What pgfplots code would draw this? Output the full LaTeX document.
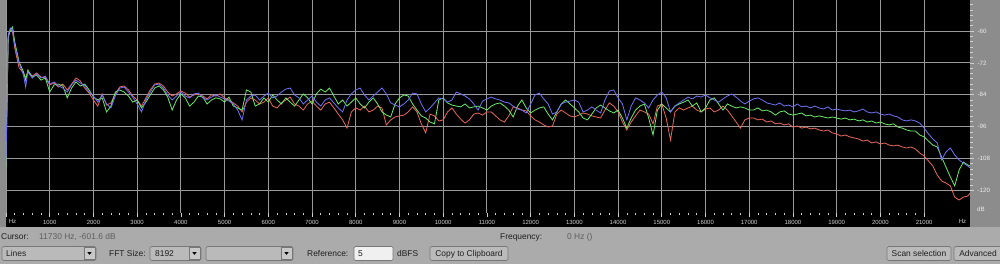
\documentclass[border=0pt]{standalone}
\usepackage{fontspec}
\setmainfont{Liberation Sans}
\usepackage{pgfplots}
\pgfplotsset{compat=1.18}
\usepackage{pgfplotstable}
\definecolor{panel}{HTML}{ABABAB}
\definecolor{side}{HTML}{8C8C8C}
\definecolor{gridc}{HTML}{999999}
\definecolor{tickc}{HTML}{D0D0D0}
\definecolor{cred}{HTML}{E8685C}
\definecolor{cgreen}{HTML}{6BEA6B}
\definecolor{cblue}{HTML}{7272F8}
\definecolor{combo}{HTML}{BABABA}
\definecolor{bord}{HTML}{777777}
\definecolor{txt}{HTML}{1E1E1E}
\definecolor{txtl}{HTML}{5E5E5E}

\pgfplotstableread{
f R G B
0 -107.9 -111.3 -109.4
50 -61.9 -62.6 -61.5
100 -59.2 -59.6 -58.9
150 -60.4 -58.5 -59.6
200 -66.4 -64.1 -65.3
250 -70.2 -67.9 -69.0
300 -73.9 -71.7 -72.1
400 -75.8 -75.4 -76.6
450 -77.7 -78.5 -81.1
500 -75.4 -74.7 -75.4
600 -77.0 -77.3 -77.7
700 -75.8 -76.6 -76.2
800 -77.3 -78.5 -77.7
900 -77.7 -77.7 -77.0
1000 -80.3 -83.0 -80.0
1100 -79.6 -80.3 -79.2
1200 -81.1 -80.0 -80.7
1300 -80.0 -80.7 -81.5
1400 -82.2 -85.2 -83.0
1500 -80.0 -81.5 -80.3
1600 -77.7 -79.2 -78.5
1700 -78.8 -80.7 -79.6
1800 -81.5 -80.0 -80.7
1900 -83.4 -82.2 -83.0
2000 -86.0 -84.9 -84.5
2100 -88.3 -86.0 -86.8
2200 -83.7 -85.2 -84.1
2300 -87.9 -90.5 -87.5
2400 -87.1 -88.3 -89.0
2500 -83.7 -83.0 -84.5
2600 -81.1 -82.2 -81.5
2700 -80.7 -83.0 -81.1
2800 -82.2 -84.5 -83.0
2900 -84.5 -86.8 -84.9
3000 -86.0 -86.0 -87.5
3100 -88.3 -89.0 -90.5
3200 -85.2 -86.8 -86.0
3300 -82.2 -84.1 -83.0
3400 -80.0 -81.5 -80.3
3500 -79.6 -80.7 -80.0
3600 -80.7 -82.2 -81.5
3700 -83.0 -84.9 -84.1
3800 -84.5 -89.8 -86.0
3900 -83.7 -86.0 -84.5
4000 -82.6 -83.7 -83.0
4100 -83.4 -85.2 -84.5
4200 -84.9 -88.3 -85.2
4300 -84.1 -86.8 -83.7
4400 -83.7 -84.5 -83.4
4500 -84.5 -84.9 -85.2
4600 -85.6 -87.5 -86.0
4700 -84.1 -86.0 -84.9
4800 -84.5 -85.2 -84.1
4900 -83.7 -85.6 -84.9
5000 -85.2 -86.8 -85.6
5100 -86.0 -84.9 -86.4
5200 -87.1 -88.3 -87.5
5300 -88.3 -89.0 -89.8
5400 -90.5 -89.8 -93.5
5500 -86.8 -82.2 -86.0
5600 -85.2 -83.0 -84.5
5700 -86.0 -88.3 -84.1
5800 -87.5 -87.5 -86.0
5900 -86.8 -85.2 -84.5
6000 -85.2 -86.8 -83.4
6100 -88.3 -84.1 -85.2
6200 -89.0 -86.0 -84.5
6300 -87.1 -87.5 -83.0
6400 -86.0 -85.2 -81.9
6500 -84.9 -86.8 -81.5
6600 -87.5 -88.3 -84.1
6700 -88.3 -86.0 -85.2
6800 -89.8 -83.7 -87.5
6900 -87.5 -85.2 -86.0
7000 -86.4 -87.5 -84.5
7100 -88.3 -83.7 -86.8
7200 -89.8 -81.9 -88.3
7300 -87.5 -83.0 -86.0
7400 -86.8 -81.5 -85.2
7500 -89.0 -84.5 -87.1
7600 -91.3 -87.5 -89.0
7700 -93.5 -86.0 -90.5
7800 -96.6 -88.3 -86.0
7900 -90.5 -86.8 -83.7
8000 -89.0 -85.2 -82.2
8100 -89.8 -87.5 -81.5
8200 -88.3 -89.0 -84.1
8300 -90.5 -86.8 -86.0
8400 -89.8 -85.2 -84.5
8500 -88.3 -87.5 -83.0
8600 -89.0 -90.5 -81.5
8700 -95.4 -91.7 -83.7
8800 -93.5 -92.4 -87.1
8900 -92.4 -87.5 -87.9
9000 -92.0 -85.2 -88.6
9100 -91.7 -84.1 -87.5
9200 -90.5 -84.5 -86.0
9300 -88.6 -87.5 -83.4
9400 -90.5 -89.8 -83.7
9500 -95.0 -92.0 -87.5
9600 -98.4 -92.8 -90.5
9700 -91.3 -94.3 -89.0
9800 -92.0 -95.0 -87.1
9900 -93.9 -86.0 -85.2
10000 -93.5 -85.2 -85.6
10100 -90.5 -87.1 -86.8
10200 -89.0 -87.9 -86.0
10300 -91.3 -88.3 -83.0
10400 -93.2 -88.6 -83.7
10500 -94.7 -87.5 -84.5
10600 -93.5 -89.0 -85.6
10700 -91.3 -88.6 -87.5
10800 -90.9 -88.3 -89.8
10900 -91.7 -89.0 -86.4
11000 -90.5 -89.8 -85.6
11100 -90.5 -88.3 -84.9
11200 -92.0 -87.5 -85.6
11300 -93.5 -87.1 -86.0
11400 -94.3 -88.3 -86.8
11500 -92.0 -89.8 -87.1
11600 -88.6 -92.4 -88.3
11700 -89.0 -88.3 -89.4
11800 -89.8 -86.0 -89.8
11900 -90.1 -89.0 -90.9
12000 -92.0 -90.9 -87.5
12100 -93.5 -89.8 -84.1
12200 -94.3 -89.0 -83.4
12300 -95.4 -88.6 -85.6
12400 -96.2 -91.3 -87.5
12500 -95.8 -93.5 -91.3
12600 -91.3 -90.5 -90.5
12700 -89.8 -87.5 -87.5
12800 -90.9 -86.0 -86.8
12900 -92.0 -87.5 -86.4
13000 -92.4 -89.0 -86.0
13100 -91.7 -90.5 -86.8
13200 -90.9 -92.8 -90.5
13300 -91.3 -93.5 -89.8
13400 -92.0 -91.3 -88.6
13500 -92.4 -89.0 -89.8
13600 -92.8 -87.9 -90.9
13700 -89.8 -89.0 -86.0
13800 -87.1 -90.1 -82.6
13900 -88.3 -90.9 -82.2
14000 -90.5 -89.8 -85.2
14100 -94.3 -92.8 -87.5
14200 -97.3 -96.6 -93.5
14300 -94.3 -92.8 -88.3
14400 -92.0 -89.8 -85.2
14500 -89.8 -88.3 -86.0
14600 -90.5 -87.5 -87.1
14700 -91.3 -92.8 -89.0
14800 -95.0 -99.2 -86.0
14900 -88.3 -89.8 -84.1
15000 -87.5 -87.5 -83.0
15100 -92.8 -89.0 -85.2
15200 -101.1 -90.5 -90.5
15300 -90.5 -88.3 -88.3
15400 -89.0 -87.5 -87.1
15500 -89.8 -86.8 -86.0
15600 -89.0 -86.0 -84.9
15700 -88.3 -88.3 -85.6
15800 -89.8 -87.1 -84.5
15900 -90.5 -90.5 -84.9
16000 -89.4 -89.0 -84.1
16100 -89.0 -86.0 -85.2
16200 -90.5 -85.2 -86.0
16300 -89.8 -87.5 -86.8
16400 -88.3 -89.8 -85.6
16500 -89.8 -87.5 -84.5
16600 -92.0 -88.3 -83.7
16700 -94.3 -89.0 -84.9
16800 -96.6 -88.6 -86.4
16900 -93.5 -89.0 -87.5
17000 -92.8 -89.8 -86.4
17100 -92.8 -89.8 -85.6
17200 -93.5 -89.0 -85.2
17300 -93.2 -90.1 -86.0
17400 -94.3 -89.8 -87.1
17500 -93.9 -90.5 -87.5
17600 -95.0 -91.7 -87.9
17700 -94.7 -90.5 -87.1
17800 -95.4 -90.1 -88.3
17900 -95.0 -91.3 -87.9
18000 -96.2 -91.7 -88.6
18100 -95.8 -91.3 -87.5
18200 -96.6 -90.9 -88.6
18300 -96.2 -92.0 -88.3
18400 -96.9 -91.7 -89.0
18500 -96.6 -92.4 -88.3
18600 -97.3 -92.0 -89.0
18700 -97.7 -92.4 -89.4
18800 -97.3 -92.8 -88.6
18900 -98.4 -92.4 -89.8
19000 -98.8 -92.8 -89.4
19100 -99.6 -93.2 -89.8
19200 -99.2 -92.8 -90.1
19300 -99.9 -93.5 -89.8
19400 -100.3 -93.2 -90.5
19500 -100.7 -93.9 -90.1
19600 -101.5 -93.5 -89.4
19700 -101.1 -94.3 -90.5
19800 -102.2 -93.9 -90.9
19900 -101.8 -94.7 -90.5
20000 -102.6 -94.3 -91.3
20100 -102.2 -95.0 -91.7
20200 -103.0 -95.4 -91.3
20300 -103.3 -95.0 -92.0
20400 -103.0 -96.2 -92.4
20500 -103.7 -96.6 -93.5
20600 -104.1 -97.3 -93.9
20700 -103.7 -97.7 -93.5
20800 -104.5 -97.7 -93.9
20900 -106.0 -99.2 -94.7
21000 -107.1 -99.9 -96.6
21100 -109.0 -101.5 -98.8
21200 -110.9 -103.0 -100.7
21300 -114.3 -103.7 -102.2
21400 -116.5 -107.5 -108.6
21500 -117.3 -111.3 -105.6
21600 -118.4 -115.0 -104.1
21700 -122.6 -118.4 -106.7
21800 -123.7 -112.4 -108.6
21900 -122.6 -109.4 -109.8
22000 -122.2 -110.5 -110.9
22050 -121.1 -110.9 -111.6
}\spectrum

\begin{document}
\begin{tikzpicture}[x=1pt,y=1pt]
\path[use as bounding box, clip] (0,0) rectangle (1000,264);
\fill[panel] (0,0) rectangle (1000,264);
\fill[side] (0,37) rectangle (1000,264);
\fill[black] (6,37) rectangle (970,264);
\begin{axis}[
  at={(6pt,51pt)}, anchor=south west,
  scale only axis, width=964pt, height=213pt,
  xmin=0, xmax=22050, ymin=-128.6, ymax=-48.3,
  axis background/.style={fill=black},
  axis line style={draw=none},
  scaled x ticks=false, scaled y ticks=false,
  xtick={0,1000,...,21000},
  xticklabels={,1000,2000,3000,4000,5000,6000,7000,8000,9000,10000,11000,12000,13000,14000,15000,16000,17000,18000,19000,20000,21000},
  minor x tick num=4,
  ytick={-48,-60,-72,-84,-96,-108,-120},
  yticklabels={-48,-60,-72,-84,-96,-108,-120},
  minor y tick num=5,
  tick align=outside,
  xtick pos=bottom, ytick pos=right,
  xticklabel pos=lower, yticklabel pos=right,
  grid=major,
  major grid style={draw=gridc, line width=0.9pt},
  tick style={draw=tickc, line width=0.6pt},
  major tick length=4pt, minor tick length=2.5pt,
  xticklabel style={font=\fontsize{6}{7}\selectfont, text=tickc},
  yticklabel style={font=\fontsize{6.2}{7}\selectfont, text=white!92!black},
]
\addplot[cred, line width=0.8pt] table[x=f,y=R]{\spectrum};
\addplot[cgreen, line width=0.8pt] table[x=f,y=G]{\spectrum};
\addplot[cblue, line width=0.8pt] table[x=f,y=B]{\spectrum};
\end{axis}
\node[font=\fontsize{6}{7}\selectfont, text=tickc] at (12.5,43) {Hz};
\node[font=\fontsize{6}{7}\selectfont, text=tickc] at (962.5,43) {Hz};
\node[font=\fontsize{6.2}{7}\selectfont, text=white!92!black] at (981,55) {dB};
% bottom control panel
\tikzset{lbl/.style={font=\fontsize{8.4}{10}\selectfont, text=txt, anchor=base west, inner sep=0pt},
         cmb/.style={fill=combo, draw=bord, line width=0.6pt, rounded corners=1.5pt}}
\node[lbl] at (1,24) {Cursor:};
\node[lbl, text=txtl] at (39,24) {11730 Hz, -601.6 dB};
\node[lbl] at (500,24) {Frequency:};
\node[lbl, text=txtl] at (567,24) {0 Hz ()};
% combo Lines
\draw[cmb] (2,3.5) rectangle (96,17.5);
\draw[fill=combo!80!white, draw=bord, line width=0.5pt] (84,4.5) rectangle (95,16.5);
\fill[black] (87.3,11.8) -- (91.7,11.8) -- (89.5,9.2) -- cycle;
\node[lbl] at (6,7.5) {Lines};
\node[lbl] at (109,7.5) {FFT Size:};
\draw[cmb] (150,3.5) rectangle (201,17.5);
\draw[fill=combo!80!white, draw=bord, line width=0.5pt] (189,4.5) rectangle (200,16.5);
\fill[black] (192.3,11.8) -- (196.7,11.8) -- (194.5,9.2) -- cycle;
\node[lbl] at (155,7.5) {8192};
\draw[cmb] (206,3.5) rectangle (293,17.5);
\draw[fill=combo!80!white, draw=bord, line width=0.5pt] (281,4.5) rectangle (292,16.5);
\fill[black] (284.3,11.8) -- (288.7,11.8) -- (286.5,9.2) -- cycle;
\node[lbl] at (307,7.5) {Reference:};
\draw[fill=white!94!black, draw=bord, line width=0.6pt, rounded corners=1.5pt] (354,3.5) rectangle (393,17.5);
\node[lbl] at (358,7.5) {5};
\node[lbl] at (397,7.5) {dBFS};
\draw[cmb] (430,3.5) rectangle (508,17.5);
\node[lbl, anchor=base] at (469,7.5) {Copy to Clipboard};
\draw[cmb] (887,3.5) rectangle (951,17.5);
\node[lbl, anchor=base] at (919,7.5) {Scan selection};
\draw[cmb] (954,3.5) rectangle (1004,17.5);
\node[lbl, anchor=base] at (978,7.5) {Advanced};
\end{tikzpicture}
\end{document}
